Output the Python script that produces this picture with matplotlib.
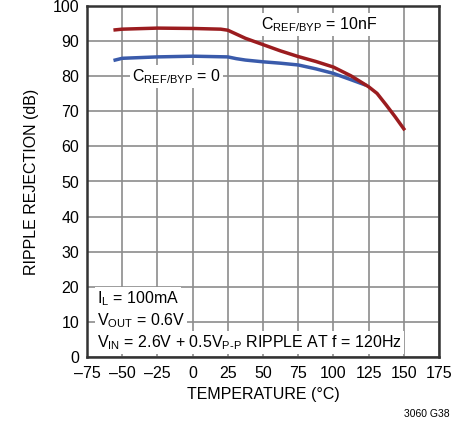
import matplotlib
matplotlib.use("Agg")
import matplotlib.pyplot as plt
from matplotlib import font_manager

# data
temp_10nf = [-55, -50, -25, 0, 20, 25, 31, 37.5, 50, 62.5, 75, 87.5, 100,
             112.5, 125, 131, 137.5, 143.75, 150]
rr_10nf = [93.2, 93.4, 93.7, 93.6, 93.4, 93.1, 92.0, 90.8, 89.0, 87.2, 85.6, 84.2, 82.6,
           80.1, 77.0, 75.1, 71.8, 68.5, 65.0]

temp_0 = [-55, -50, -25, 0, 25, 31, 37.5, 50, 62.5, 75, 87.5, 100, 112.5, 122]
rr_0 = [84.6, 85.1, 85.5, 85.7, 85.5, 85.0, 84.6, 84.1, 83.7, 83.2, 82.1, 80.8, 79.0, 77.6]

xticks = [-75, -50, -25, 0, 25, 50, 75, 100, 125, 150, 175]
yticks = list(range(0, 101, 10))

names = {f.name for f in font_manager.fontManager.ttflist}
family = "Liberation Sans Narrow" if "Liberation Sans Narrow" in names else "Liberation Sans"

plt.rcParams.update({
    "font.family": family,
    "font.size": 12,
    "mathtext.fontset": "custom",
    "mathtext.rm": family,
    "mathtext.it": family,
    "mathtext.bf": family,
})

fig = plt.figure(figsize=(4.67, 4.23), dpi=100)
ax = fig.add_axes([87 / 467, 1 - 357 / 423, 352 / 467, 351 / 423])

ax.set_xlim(-75, 175)
ax.set_ylim(0, 100)
ax.set_xticks(xticks)
ax.set_yticks(yticks)
ax.set_xticklabels([str(t).replace("-", "\u2013") for t in xticks])
ax.grid(True, color="#8c8c8c", linewidth=1.2)
ax.set_axisbelow(True)
ax.tick_params(axis="x", length=0, pad=6.5, labelsize=11.5)
ax.tick_params(axis="y", length=0, pad=5.5, labelsize=11.5)
for s in ax.spines.values():
    s.set_color("#333333")
    s.set_linewidth(1.8)

ax.plot(temp_0, rr_0, color="#3a5bab", linewidth=2.5, zorder=3)
ax.plot(temp_10nf, rr_10nf, color="#9b1c1f", linewidth=2.5, zorder=4)

box = dict(facecolor="white", edgecolor="none", pad=1.5)
ax.text(90, 94.8, r"C$_{\mathrm{REF/BYP}}$ = 10nF", ha="center", va="center",
        fontsize=11.5, bbox=box, zorder=5)
ax.text(-11.5, 79.8, r"C$_{\mathrm{REF/BYP}}$ = 0", ha="center", va="center",
        fontsize=11.5, bbox=box, zorder=5)

cond_lines = ["I$_{\\mathrm{L}}$ = 100mA",
              "V$_{\\mathrm{OUT}}$ = 0.6V",
              "V$_{\\mathrm{IN}}$ = 2.6V + 0.5V$_{\\mathrm{P\u2010P}}$ RIPPLE AT f = 120Hz"]
cond_y = [15.4, 8.9, 2.8]
for txt, yv in zip(cond_lines, cond_y):
    ax.text(-68, yv, txt, ha="left", va="baseline", fontsize=11.5,
            bbox=box, zorder=5)

ax.set_xlabel("TEMPERATURE (\u00b0C)", fontsize=11.5, labelpad=4)
ax.set_ylabel("RIPPLE REJECTION (dB)", fontsize=11.5, labelpad=10)
fig.text(450 / 467, 1 - 414 / 423, "3060 G38", ha="right", va="center", fontsize=7.5)

fig.savefig("out.png", dpi=100)
